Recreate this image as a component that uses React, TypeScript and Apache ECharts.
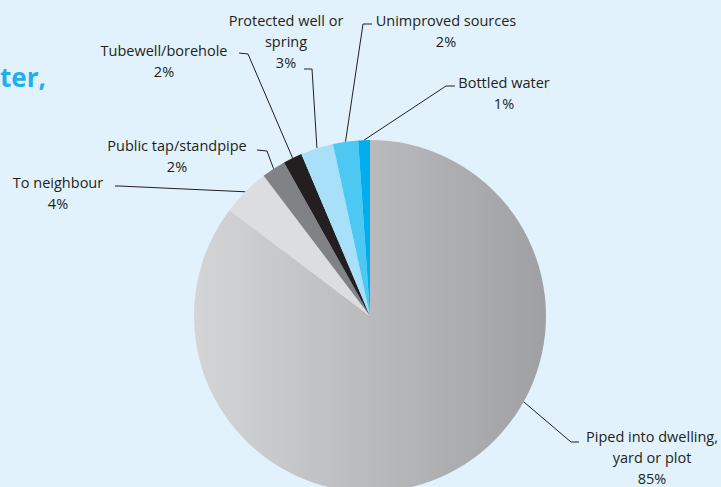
import React, { useEffect, useRef } from "react";
import * as echarts from "echarts";

// ---- data ----
const categories = [
  "Piped into dwelling,\nyard or plot",
  "To neighbour",
  "Public tap/standpipe",
  "Tubewell/borehole",
  "Protected well or\nspring",
  "Unimproved sources",
  "Bottled water",
];
const values = [85.2, 4.4, 2.2, 1.75, 3.0, 2.3, 1.07];
const percentLabels = ["85%", "4%", "2%", "2%", "3%", "2%", "1%"];
const sliceColors = ["#b8b9bc", "#dcdddf", "#808285", "#231f20", "#a9e0f9", "#4cc8f2", "#00aeef"];
const pipedGradient = ["#d4d5d7", "#9fa0a3"];

// ---- label layout (positions only) ----
const labelBoxes: number[][] = [
  [652, 426],
  [58, 172],
  [177, 135],
  [164, 40],
  [286, 10],
  [446, 10],
  [504, 72],
];
const leaderBends: number[][][] = [
  [[571, 442], [579, 442]],
  [[119, 186], [115, 186]],
  [[267, 151], [257, 150]],
  [[248, 54], [239, 53]],
  [[312, 69], [304, 69]],
  [[363, 24], [372, 24]],
  [[446, 86], [455, 86]],
];
// fraction along the slice where the leader line starts (null = slice middle)
const anchorFractions: (number | null)[] = [0.3875, null, null, null, null, null, null];

export default function App() {
  const ref = useRef<HTMLDivElement>(null);
  useEffect(() => {
    if (!ref.current) return;
    const chart = echarts.init(ref.current, undefined, { renderer: "svg" });
    const data = categories.map((name, i) => ({
      name,
      value: values[i],
      itemStyle: {
        color:
          i === 0
            ? new echarts.graphic.LinearGradient(0, 0, 1, 0, [
                { offset: 0, color: pipedGradient[0] },
                { offset: 1, color: pipedGradient[1] },
              ])
            : sliceColors[i],
      },
    }));
    chart.setOption({
      animation: false,
      backgroundColor: "#e1f2fc",
      graphic: [
        {
          type: "text",
          left: 0,
          top: 64,
          style: {
            text: "ter,",
            fill: "#1cb0ec",
            font: "bold 26px 'Open Sans'",
          },
        },
      ],
      series: [
        {
          type: "pie",
          center: [370, 316],
          radius: 176,
          startAngle: 90,
          clockwise: true,
          silent: true,
          avoidLabelOverlap: false,
          emphasis: { disabled: true },
          itemStyle: { borderWidth: 0 },
          data,
          label: {
            show: true,
            position: "outside",
            color: "#231f20",
            fontFamily: "Open Sans",
            fontSize: 14.5,
            lineHeight: 21,
            align: "center",
            formatter: (p: any) => p.name + "\n" + percentLabels[p.dataIndex],
          },
          labelLine: {
            show: true,
            length: 20,
            length2: 10,
            smooth: false,
            lineStyle: { color: "#231f20", width: 1 },
          },
          labelLayout: (p: any) => {
            const i = p.dataIndex;
            const box = labelBoxes[i];
            let start = p.labelLinePoints ? p.labelLinePoints[0] : null;
            const frac = anchorFractions[i];
            if (frac != null) {
              try {
                const lay: any = (chart as any)
                  .getModel()
                  .getSeriesByIndex(0)
                  .getData()
                  .getItemLayout(i);
                const a = lay.startAngle + (lay.endAngle - lay.startAngle) * frac;
                start = [lay.cx + lay.r * 0.98 * Math.cos(a), lay.cy + lay.r * 0.98 * Math.sin(a)];
              } catch (e) {
                /* keep default */
              }
            }
            const pts = start ? [start, ...leaderBends[i]] : undefined;
            return {
              x: box[0],
              y: box[1],
              align: "center",
              verticalAlign: "top",
              labelLinePoints: pts,
            };
          },
        },
      ],
    });
    return () => chart.dispose();
  }, []);
  return (
    <div
      ref={ref}
      style={{ position: "absolute", left: 0, top: 0, width: 721, height: 487 }}
    />
  );
}
